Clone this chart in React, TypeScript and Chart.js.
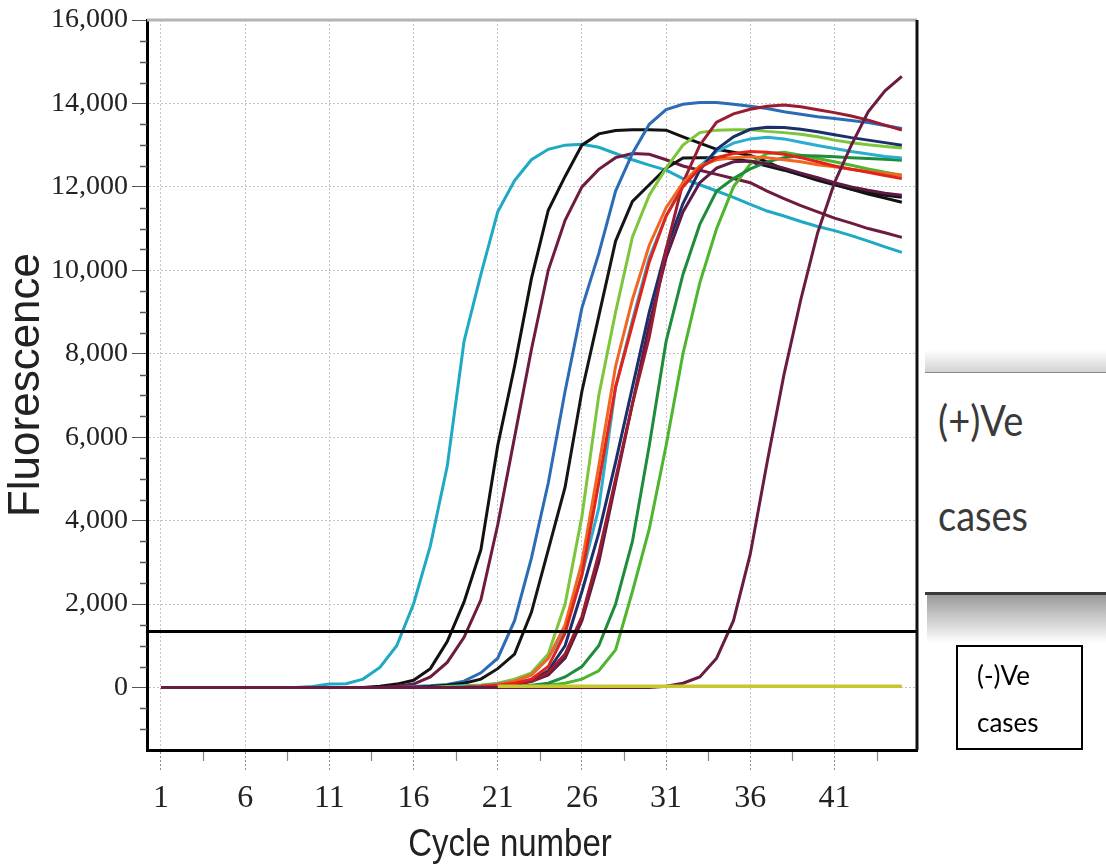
import React, { useEffect, useRef } from "react";
import { Chart, registerables } from "chart.js";

Chart.register(...registerables);

// ---------- data ----------
const CYCLES = [1, 2, 3, 4, 5, 6, 7, 8, 9, 10, 11, 12, 13, 14, 15, 16, 17, 18, 19, 20, 21, 22, 23, 24, 25, 26, 27, 28, 29, 30, 31, 32, 33, 34, 35, 36, 37, 38, 39, 40, 41, 42, 43, 44, 45];
const X_TICKS = [1, 6, 11, 16, 21, 26, 31, 36, 41];
const X_MINOR = [3.5, 8.5, 13.5, 18.5, 23.5, 28.5, 33.5, 38.5, 43.5];
const Y_TICKS = [0, 2000, 4000, 6000, 8000, 10000, 12000, 14000, 16000];
const Y_MINOR = [-1000, -500, 500, 1000, 1500, 2500, 3000, 3500, 4500, 5000, 5500, 6500, 7000, 7500, 8500, 9000, 9500, 10500, 11000, 11500, 12500, 13000, 13500, 14500, 15000, 15500];
const X_MIN = 0.17;
const X_MAX = 45.9;
const Y_MIN = -1500;
const Y_MAX = 16000;
const THRESHOLD = 1350;

const CYAN1 = [0, 0, 0, 0, 0, 0, 0, 0, 0, 20, 80, 90, 200, 480, 1000, 2000, 3400, 5300, 8300, 9900, 11400, 12150, 12650, 12900, 13000, 13020, 12950, 12800, 12650, 12520, 12400, 12200, 12050, 11900, 11750, 11580, 11420, 11300, 11170, 11050, 10950, 10830, 10700, 10560, 10430];
const BLACK1 = [0, 0, 0, 0, 0, 0, 0, 0, 0, 0, 0, 0, 0, 30, 80, 170, 450, 1100, 2050, 3300, 5800, 7700, 9800, 11440, 12250, 13000, 13270, 13350, 13370, 13370, 13360, 13200, 13050, 12900, 12830, 12750, 12600, 12420, 12300, 12180, 12060, 11940, 11830, 11730, 11630];
const MAROON1 = [0, 0, 0, 0, 0, 0, 0, 0, 0, 0, 0, 0, 0, 0, 30, 80, 250, 600, 1200, 2100, 3900, 6000, 8100, 10000, 11200, 12000, 12420, 12700, 12800, 12780, 12650, 12500, 12400, 12300, 12200, 12100, 11900, 11720, 11550, 11400, 11250, 11130, 11000, 10900, 10790];
const BLUE = [0, 0, 0, 0, 0, 0, 0, 0, 0, 0, 0, 0, 0, 0, 0, 20, 40, 70, 150, 350, 700, 1600, 3100, 4900, 7100, 9100, 10400, 11900, 12800, 13500, 13850, 13980, 14020, 14020, 13980, 13930, 13880, 13800, 13740, 13680, 13640, 13590, 13540, 13470, 13400];
const BLACK2 = [0, 0, 0, 0, 0, 0, 0, 0, 0, 0, 0, 0, 0, 0, 0, 0, 20, 50, 100, 200, 450, 800, 1800, 3300, 4800, 7100, 8900, 10700, 11650, 12050, 12450, 12690, 12700, 12700, 12680, 12600, 12500, 12400, 12280, 12160, 12050, 11950, 11870, 11800, 11750];
const LGREEN = [0, 0, 0, 0, 0, 0, 0, 0, 0, 0, 0, 0, 0, 0, 0, 0, 0, 20, 40, 60, 100, 200, 350, 800, 2000, 4100, 7000, 9000, 10800, 11800, 12450, 13000, 13300, 13360, 13370, 13370, 13330, 13300, 13260, 13200, 13120, 13060, 13010, 12970, 12930];
const CYAN2 = [0, 0, 0, 0, 0, 0, 0, 0, 0, 0, 0, 0, 0, 0, 0, 0, 0, 0, 20, 40, 80, 150, 300, 700, 1400, 2700, 4300, 7200, 8800, 10300, 11300, 12050, 12500, 12850, 13050, 13150, 13190, 13150, 13070, 12990, 12920, 12850, 12790, 12730, 12690];
const ORANGE = [0, 0, 0, 0, 0, 0, 0, 0, 0, 0, 0, 0, 0, 0, 0, 0, 0, 0, 0, 30, 70, 150, 300, 700, 1500, 3000, 5300, 7700, 9300, 10600, 11500, 12100, 12500, 12650, 12700, 12720, 12700, 12650, 12600, 12530, 12480, 12420, 12370, 12320, 12280];
const RED = [0, 0, 0, 0, 0, 0, 0, 0, 0, 0, 0, 0, 0, 0, 0, 0, 0, 0, 0, 20, 50, 100, 200, 500, 1300, 2700, 4900, 7200, 8700, 10200, 11300, 12000, 12450, 12700, 12800, 12850, 12830, 12780, 12700, 12600, 12500, 12420, 12350, 12270, 12200];
const DKRED = [0, 0, 0, 0, 0, 0, 0, 0, 0, 0, 0, 0, 0, 0, 0, 0, 0, 0, 0, 20, 40, 80, 150, 350, 800, 1700, 3200, 5000, 6800, 8400, 10500, 12100, 13000, 13550, 13750, 13860, 13930, 13960, 13920, 13850, 13780, 13700, 13600, 13480, 13360];
const NAVY = [0, 0, 0, 0, 0, 0, 0, 0, 0, 0, 0, 0, 0, 0, 0, 0, 0, 0, 0, 20, 40, 80, 170, 400, 1000, 2300, 3700, 5400, 7200, 9000, 10500, 11600, 12400, 12900, 13200, 13380, 13430, 13420, 13380, 13320, 13250, 13180, 13120, 13060, 13000];
const MAROON2 = [0, 0, 0, 0, 0, 0, 0, 0, 0, 0, 0, 0, 0, 0, 0, 0, 0, 0, 0, 20, 40, 70, 140, 300, 700, 1600, 3000, 4900, 6800, 8700, 10300, 11400, 12100, 12450, 12600, 12620, 12550, 12450, 12330, 12220, 12100, 12000, 11920, 11850, 11800];
const DKGREEN = [0, 0, 0, 0, 0, 0, 0, 0, 0, 0, 0, 0, 0, 0, 0, 0, 0, 0, 0, 0, 0, 20, 50, 100, 250, 500, 1000, 2000, 3500, 5800, 8300, 9900, 11100, 11900, 12200, 12430, 12600, 12700, 12750, 12740, 12720, 12700, 12680, 12660, 12640];
const GREEN2 = [0, 0, 0, 0, 0, 0, 0, 0, 0, 0, 0, 0, 0, 0, 0, 0, 0, 0, 0, 0, 0, 0, 20, 50, 100, 200, 400, 900, 2300, 3800, 5800, 8000, 9700, 11000, 12000, 12550, 12800, 12830, 12760, 12680, 12600, 12520, 12430, 12350, 12280];
const MAROON3 = [0, 0, 0, 0, 0, 0, 0, 0, 0, 0, 0, 0, 0, 0, 0, 0, 0, 0, 0, 0, 0, 0, 0, 0, 0, 0, 0, 0, 0, 0, 30, 100, 250, 700, 1600, 3200, 5400, 7500, 9300, 10900, 12100, 13000, 13800, 14300, 14650];
const NEGATIVE = [null, null, null, null, null, null, null, null, null, null, null, null, null, null, null, null, null, null, null, null, 30, 30, 30, 30, 30, 30, 30, 30, 30, 30, 30, 30, 30, 30, 30, 30, 30, 30, 30, 30, 30, 30, 30, 30, 30];

// drawn top-most first
const SERIES: { name: string; values: (number | null)[]; color: string; width: number }[] = [
  { name: "Negative", values: NEGATIVE, color: "#c8c62e", width: 3.6 },
  { name: "Late maroon", values: MAROON3, color: "#6a1b40", width: 3 },
  { name: "Red", values: RED, color: "#e2231a", width: 3 },
  { name: "Orange", values: ORANGE, color: "#f26522", width: 3 },
  { name: "Dark red", values: DKRED, color: "#9b1b30", width: 3 },
  { name: "Navy", values: NAVY, color: "#1b2f6b", width: 3 },
  { name: "Maroon 2", values: MAROON2, color: "#5e1a45", width: 3 },
  { name: "Cyan 2", values: CYAN2, color: "#27aed0", width: 3 },
  { name: "Light green", values: LGREEN, color: "#7dc53b", width: 3 },
  { name: "Dark green", values: DKGREEN, color: "#1e8c3a", width: 3 },
  { name: "Green 2", values: GREEN2, color: "#4fb52f", width: 3 },
  { name: "Black 2", values: BLACK2, color: "#151515", width: 3 },
  { name: "Blue", values: BLUE, color: "#2b6cb5", width: 3 },
  { name: "Maroon 1", values: MAROON1, color: "#6e1b3f", width: 3 },
  { name: "Black 1", values: BLACK1, color: "#111111", width: 3 },
  { name: "Cyan 1", values: CYAN1, color: "#1fa9c4", width: 3 },
];

const decorPlugin = {
  id: "decor",
  afterDatasetsDraw(chart: any) {
    const { ctx, chartArea, scales } = chart;
    const y = scales.y;
    ctx.save();
    const ty = Math.round(y.getPixelForValue(THRESHOLD)) + 0.5;
    ctx.strokeStyle = "#000";
    ctx.lineWidth = 2.8;
    ctx.beginPath();
    ctx.moveTo(chartArea.left, ty);
    ctx.lineTo(chartArea.right, ty);
    ctx.stroke();
    ctx.restore();
  },
  afterDraw(chart: any) {
    const { ctx, chartArea, scales } = chart;
    const y = scales.y;
    const x = scales.x;
    ctx.save();
    ctx.strokeStyle = "#b4b4b4";
    ctx.lineWidth = 3;
    ctx.beginPath();
    ctx.moveTo(chartArea.left, chartArea.top);
    ctx.lineTo(chartArea.right, chartArea.top);
    ctx.stroke();
    ctx.strokeStyle = "#111";
    ctx.lineWidth = 3;
    ctx.beginPath();
    ctx.moveTo(chartArea.right, chartArea.top);
    ctx.lineTo(chartArea.right, chartArea.bottom);
    ctx.stroke();
    ctx.strokeStyle = "#555";
    ctx.lineWidth = 1.5;
    for (const v of Y_MINOR) {
      const py = Math.round(y.getPixelForValue(v)) + 0.5;
      ctx.beginPath();
      ctx.moveTo(chartArea.left - 7, py);
      ctx.lineTo(chartArea.left, py);
      ctx.stroke();
    }
    ctx.strokeStyle = "#888";
    ctx.lineWidth = 1.2;
    for (const v of X_MINOR) {
      const px = Math.round(x.getPixelForValue(v)) + 0.5;
      ctx.beginPath();
      ctx.moveTo(px, chartArea.bottom + 2);
      ctx.lineTo(px, chartArea.bottom + 11);
      ctx.stroke();
    }
    ctx.restore();
  },
};

const boxText = (extra: React.CSSProperties): React.CSSProperties => ({
  position: "absolute",
  fontFamily: "Lato, 'Open Sans', sans-serif",
  whiteSpace: "nowrap",
  ...extra,
});

export default function App() {
  const canvasRef = useRef<HTMLCanvasElement>(null);

  useEffect(() => {
    const canvas = canvasRef.current;
    if (!canvas) return;
    const chart = new Chart(canvas, {
      type: "line",
      data: {
        datasets: SERIES.map((s) => ({
          label: s.name,
          data: CYCLES.map((c, i) => ({ x: c, y: s.values[i] })),
          borderColor: s.color,
          backgroundColor: s.color,
          borderWidth: s.width,
          pointRadius: 0,
          tension: 0,
          fill: false,
          spanGaps: false,
        })),
      },
      options: {
        responsive: false,
        animation: false,
        devicePixelRatio: 1,
        layout: { padding: { top: 20, right: 189, bottom: 0, left: 0 } },
        plugins: {
          legend: { display: false },
          tooltip: { enabled: false },
        },
        scales: {
          x: {
            type: "linear",
            min: X_MIN,
            max: X_MAX,
            afterBuildTicks: (scale: any) => {
              scale.ticks = X_TICKS.map((v) => ({ value: v }));
            },
            afterFit: (scale: any) => {
              scale.height = 117;
            },
            ticks: {
              autoSkip: false,
              maxRotation: 0,
              padding: 9,
              color: "#222",
              font: { family: "'Liberation Serif', 'DejaVu Serif', serif", size: 32 },
              callback: (v: any) => String(v),
            },
            grid: {
              color: "#c4c4c4",
              lineWidth: 1,
              drawTicks: true,
              tickLength: 20,
              tickColor: "#8a8a8a",
              tickBorderDash: [2, 2],
            },
            border: { display: true, color: "#000", width: 3, dash: [2, 2] },
            title: { display: false },
          },
          y: {
            type: "linear",
            min: Y_MIN,
            max: Y_MAX,
            afterBuildTicks: (scale: any) => {
              scale.ticks = Y_TICKS.map((v) => ({ value: v }));
            },
            afterFit: (scale: any) => {
              scale.width = 147;
            },
            ticks: {
              padding: 4,
              color: "#222",
              font: { family: "'Liberation Serif', 'DejaVu Serif', serif", size: 28, lineHeight: 1.1 },
              callback: (v: any) => Number(v).toLocaleString("en-US"),
            },
            grid: {
              color: "#c4c4c4",
              lineWidth: 1,
              drawTicks: true,
              tickLength: 15,
              tickColor: "#555",
              tickBorderDash: [],
            },
            border: { display: true, color: "#000", width: 3, dash: [2, 2] },
            title: {
              display: true,
              text: "Fluorescence",
              color: "#222",
              font: { family: "'Liberation Sans', Arial, sans-serif", size: 44 },
              padding: { top: 0, bottom: 0 },
            },
          },
        },
      },
      plugins: [decorPlugin],
    } as any);
    return () => chart.destroy();
  }, []);

  return (
    <div
      style={{
        position: "absolute",
        left: 0,
        top: 0,
        width: 1106,
        height: 867,
        background: "#fff",
        overflow: "hidden",
      }}
    >
      <canvas
        ref={canvasRef}
        width={1106}
        height={867}
        style={{ position: "absolute", left: 0, top: 0, width: 1106, height: 867 }}
      />
      {/* x-axis title */}
      <div
        style={{
          position: "absolute",
          left: 0,
          top: 824,
          width: 1020,
          textAlign: "center",
          fontFamily: "'Liberation Sans', Arial, sans-serif",
          fontSize: 33,
          lineHeight: "38px",
          color: "#222",
          transform: "scaleY(1.18)",
          transformOrigin: "center center",
          whiteSpace: "nowrap",
        }}
      >
        Cycle number
      </div>
      {/* (+)Ve cases box */}
      <div
        style={{
          position: "absolute",
          left: 925,
          top: 350,
          width: 181,
          height: 22,
          background: "linear-gradient(to bottom, rgba(255,255,255,0), rgba(200,200,200,0.8))",
        }}
      />
      <div
        style={{
          position: "absolute",
          left: 925,
          top: 372,
          width: 181,
          height: 223,
          background: "#fff",
          borderTop: "1px solid #8a8a8a",
          borderBottom: "3px solid #3a3a3a",
          boxSizing: "border-box",
        }}
      />
      <div
        style={{
          position: "absolute",
          left: 927,
          top: 595,
          width: 179,
          height: 48,
          background: "linear-gradient(to bottom, rgba(120,120,120,0.75), rgba(255,255,255,0))",
        }}
      />
      <div
        style={boxText({
          left: 938,
          top: 400,
          fontSize: 38,
          lineHeight: "38px",
          color: "#3a3a3a",
          transform: "scaleY(1.12)",
          transformOrigin: "left center",
        })}
      >
        (+)Ve
      </div>
      <div
        style={boxText({
          left: 938,
          top: 495,
          fontSize: 38,
          lineHeight: "38px",
          color: "#3a3a3a",
          transform: "scaleY(1.12)",
          transformOrigin: "left center",
        })}
      >
        cases
      </div>
      {/* (-)Ve cases box */}
      <div
        style={{
          position: "absolute",
          left: 956,
          top: 645,
          width: 127,
          height: 105,
          border: "2px solid #000",
          boxSizing: "border-box",
          background: "#fff",
        }}
      />
      <div style={boxText({ left: 977, top: 662, fontSize: 26, lineHeight: "26px", color: "#000" })}>
        (-)Ve
      </div>
      <div style={boxText({ left: 977, top: 709, fontSize: 26, lineHeight: "26px", color: "#000" })}>
        cases
      </div>
    </div>
  );
}
